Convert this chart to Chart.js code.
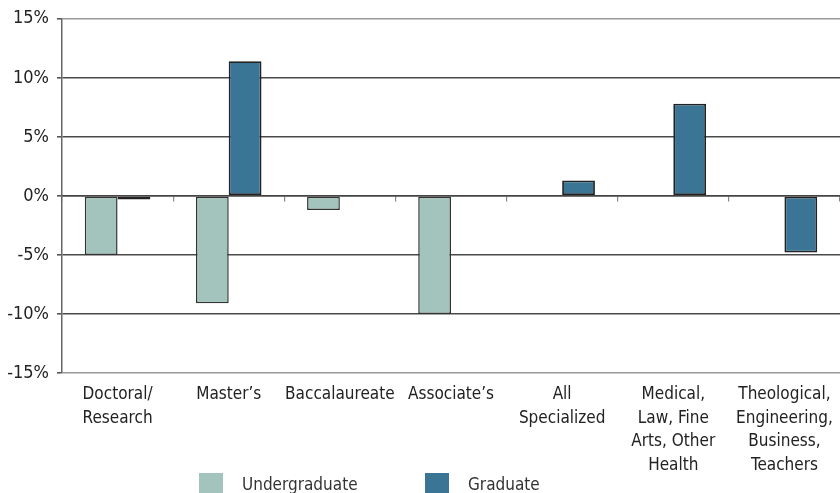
<!DOCTYPE html>
<html>
<head>
<meta charset="utf-8">
<script src="https://cdn.jsdelivr.net/npm/chart.js@4/dist/chart.umd.min.js"></script>
<style>
    html, body { margin: 0; padding: 0; background: #fff; overflow: hidden; }
    #wrap { position: relative; width: 840px; height: 493px; }
    .legend-item { position: absolute; top: 473px; font: 17px 'Liberation Sans Narrow', 'DejaVu Sans Condensed', sans-serif; color: #333; }
    .legend-box { position: absolute; top: 0; width: 24px; height: 20px; }
    .legend-text { position: absolute; top: 1px; white-space: nowrap; }
</style>
</head>
<body>
<div id="wrap">
    <canvas id="chart" width="840" height="493"></canvas>
    <div id="legend"></div>
</div>
<script>
// Chart data
const categories = [
    ['Doctoral/', 'Research'],
    ["Master\u2019s"],
    ['Baccalaureate'],
    ["Associate\u2019s"],
    ['All', 'Specialized'],
    ['Medical,', 'Law, Fine', 'Arts, Other', 'Health'],
    ['Theological,', 'Engineering,', 'Business,', 'Teachers']
];
const undergraduate = [-5.0, -9.1, -1.2, -10.0, null, null, null];
const graduate = [-0.3, 11.4, null, null, 1.3, 7.8, -4.8];
const yTicks = [-15, -10, -5, 0, 5, 10, 15];

const seriesNames = ['Undergraduate', 'Graduate'];
const seriesColors = ['#a2c4bc', '#3a7595'];

const fontFamily = "'Liberation Sans Narrow', 'DejaVu Sans Condensed', sans-serif";

const canvas = document.getElementById('chart');

new Chart(canvas, {
    type: 'bar',
    data: {
        labels: categories,
        datasets: [
            {
                label: seriesNames[0],
                data: undergraduate,
                backgroundColor: seriesColors[0],
                borderColor: '#333',
                borderWidth: 1.5,
                borderSkipped: false,
                categoryPercentage: 0.59,
                barPercentage: 1.0
            },
            {
                label: seriesNames[1],
                data: graduate,
                backgroundColor: seriesColors[1],
                borderColor: '#222',
                borderWidth: 1.8,
                borderSkipped: false,
                categoryPercentage: 0.59,
                barPercentage: 1.0
            }
        ]
    },
    options: {
        responsive: false,
        animation: false,
        layout: {
            padding: { top: 17, right: 0, left: 0, bottom: 0 }
        },
        plugins: {
            legend: { display: false },
            tooltip: { enabled: false }
        },
        scales: {
            x: {
                position: 'bottom',
                grid: { display: false },
                border: { display: false },
                ticks: {
                    color: '#222',
                    padding: 2,
                    maxRotation: 0,
                    autoSkip: false,
                    font: { family: fontFamily, size: 17, lineHeight: 1.38 }
                },
                afterFit: function(scale) { scale.height = 120; }
            },
            // Zero line with small tick marks between categories
            x2: {
                type: 'category',
                labels: categories,
                position: { y: 0 },
                offset: true,
                grid: {
                    offset: true,
                    drawOnChartArea: false,
                    drawTicks: true,
                    tickLength: 5,
                    color: '#888',
                    lineWidth: 1.2
                },
                border: { display: true, color: '#444', width: 1.6 },
                ticks: { display: false }
            },
            y: {
                min: -15,
                max: 15,
                afterBuildTicks: function(scale) {
                    scale.ticks = yTicks.map(v => ({ value: v }));
                },
                grid: {
                    color: function(ctx) {
                        const v = ctx.tick ? ctx.tick.value : 0;
                        return (v === 15 || v === -15) ? '#999' : '#4a4a4a';
                    },
                    lineWidth: 1.6,
                    tickLength: 5,
                    tickColor: '#555'
                },
                border: { display: true, color: '#666', width: 1.5 },
                ticks: {
                    color: '#222',
                    padding: 8,
                    font: { family: fontFamily, size: 18 },
                    callback: function(value) { return value + '%'; }
                },
                afterFit: function(scale) { scale.width = 62; }
            }
        }
    }
});

// Legend below the chart
const legendPositions = [199, 425];
const legend = document.getElementById('legend');
seriesNames.forEach((name, i) => {
    const item = document.createElement('div');
    item.className = 'legend-item';
    item.style.left = legendPositions[i] + 'px';
    item.innerHTML = '<div class="legend-box" style="left:0;background:' + seriesColors[i] + '"></div>' +
        '<div class="legend-text" style="left:43px">' + name + '</div>';
    legend.appendChild(item);
});
</script>
</body>
</html>
